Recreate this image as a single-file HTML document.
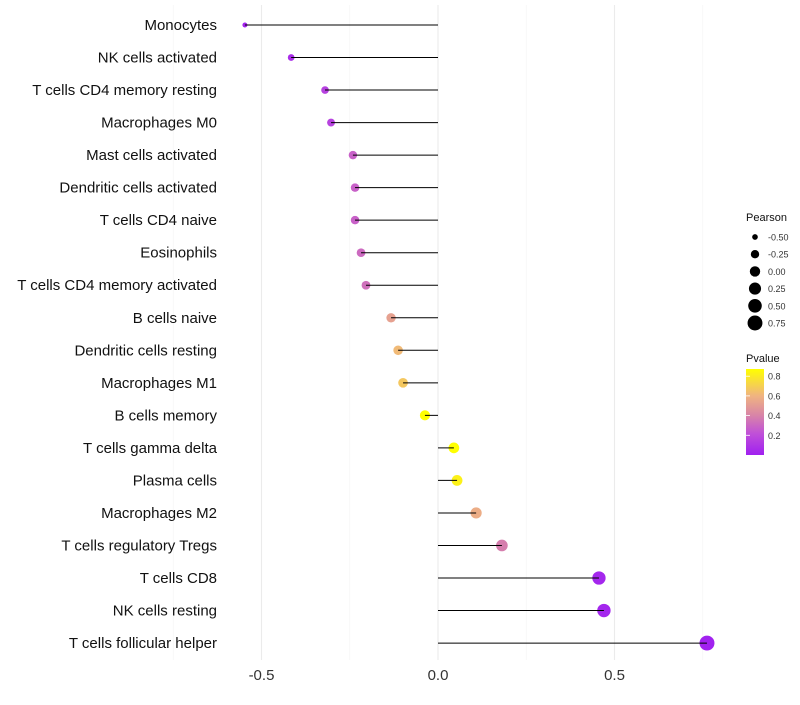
<!DOCTYPE html>
<html><head><meta charset="utf-8"><style>
body{margin:0;background:#fff;font-family:"Liberation Sans",sans-serif}
</style></head><body>
<svg id="chart" width="800" height="700" xmlns="http://www.w3.org/2000/svg" font-family="Liberation Sans, sans-serif">
<defs><linearGradient id="pg" x1="0" y1="1" x2="0" y2="0">
<stop offset="0" stop-color="#A020F0"/><stop offset="0.25" stop-color="#C050D8"/><stop offset="0.46" stop-color="#D884A8"/><stop offset="0.69" stop-color="#F0B480"/><stop offset="1" stop-color="#FFFF00"/>
</linearGradient></defs>
<g id="grid"></g><g id="dots"></g><g id="marks"></g><g id="labels"></g><g id="legend"></g>
</svg>
<script>
const categories=["Monocytes","NK cells activated","T cells CD4 memory resting","Macrophages M0","Mast cells activated","Dendritic cells activated","T cells CD4 naive","Eosinophils","T cells CD4 memory activated","B cells naive","Dendritic cells resting","Macrophages M1","B cells memory","T cells gamma delta","Plasma cells","Macrophages M2","T cells regulatory  Tregs ","T cells CD8","NK cells resting","T cells follicular helper"];
const pearson=[-0.547,-0.416,-0.32,-0.303,-0.241,-0.235,-0.235,-0.218,-0.204,-0.133,-0.113,-0.099,-0.037,0.045,0.054,0.108,0.181,0.456,0.47,0.762];
const pvalue=[0.02,0.06,0.15,0.16,0.28,0.28,0.28,0.31,0.33,0.52,0.62,0.67,0.87,0.87,0.82,0.57,0.38,0.03,0.03,0.01];
const xTicks=[-0.5,0,0.5];
const xTickLabels=["-0.5","0.0","0.5"];
const legendSizes=[-0.5,-0.25,0,0.25,0.5,0.75];
const legendSizeLabels=["-0.50","-0.25","0.00","0.25","0.50","0.75"];
const pTicks=[0.2,0.4,0.6,0.8];
const NS="http://www.w3.org/2000/svg";
const x=v=>438+v*353;
const y=i=>25+i*32.53;
const r=v=>Math.sqrt(Math.max(3,27+38*v));
const stops=[[0,[160,32,240]],[0.22,[192,80,216]],[0.4,[216,132,168]],[0.6,[240,180,128]],[0.87,[255,255,0]]];
function col(p){p=Math.max(0,Math.min(0.87,p));for(let k=1;k<stops.length;k++){if(p<=stops[k][0]){const a=stops[k-1],b=stops[k],t=(p-a[0])/(b[0]-a[0]);return "rgb("+a[1].map((c,j)=>Math.round(c+(b[1][j]-c)*t)).join(",")+")";}}return "rgb(255,255,0)";}
function mk(tag,attrs,parent,txt){const e=document.createElementNS(NS,tag);for(const k in attrs)e.setAttribute(k,attrs[k]);if(txt!==undefined)e.textContent=txt;document.getElementById(parent).appendChild(e);return e;}
[-0.75,-0.25,0.25,0.75].forEach(t=>{const l=mk("line",{x1:x(t),x2:x(t),y1:5,y2:660,stroke:"#f4f4f4","stroke-width":0.6},"grid");

});
xTicks.forEach((t,i)=>{const l=mk("line",{x1:x(t),x2:x(t),y1:5,y2:660,stroke:"#ebebeb","stroke-width":1.1},"grid");


const tx=mk("text",{x:x(t),y:680,"text-anchor":"middle","font-size":15,fill:"#333"},"labels",xTickLabels[i]);

});
categories.forEach((c,i)=>{
const d=mk("circle",{cx:x(pearson[i]),cy:y(i),r:r(pearson[i]),fill:col(pvalue[i])},"dots");


const l=mk("line",{x1:x(0),x2:x(pearson[i]),y1:y(i),y2:y(i),stroke:"#000","stroke-width":1},"marks");


const t=mk("text",{x:217,y:y(i)+5,"text-anchor":"end","font-size":15,fill:"#111"},"labels",c);

});
let t=mk("text",{x:746,y:221,"font-size":11,fill:"#111"},"legend","Pearson");


legendSizes.forEach((v,i)=>{const yy=237+i*17.2;
const c=mk("circle",{cx:755,cy:yy,r:r(v),fill:"#000"},"legend");


const tx=mk("text",{x:768,y:yy+3.5,"font-size":9,fill:"#333"},"legend",legendSizeLabels[i]);

});
t=mk("text",{x:746,y:362,"font-size":11,fill:"#111"},"legend","Pvalue");


const bar=mk("rect",{x:746,y:369,width:18,height:86,fill:"url(#pg)"},"legend");


pTicks.forEach(p=>{const yy=455-p*98.5;
const tk=mk("line",{x1:746,x2:750,y1:yy,y2:yy,stroke:"#fff","stroke-width":0.8},"legend");


const tx=mk("text",{x:768,y:yy+3.5,"font-size":9,fill:"#333"},"legend",p.toFixed(1));

});
</script>
</body></html>
